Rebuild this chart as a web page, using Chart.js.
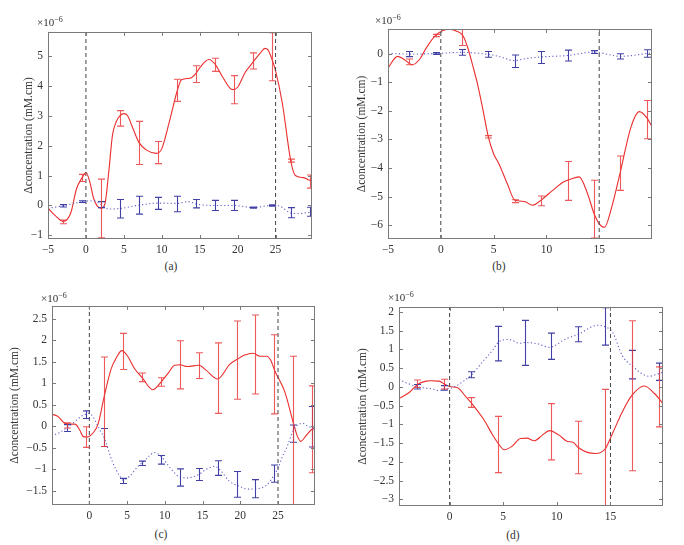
<!DOCTYPE html>
<html><head><meta charset="utf-8">
<script src="https://cdn.jsdelivr.net/npm/chart.js@4.4.1/dist/chart.umd.min.js"></script>
<style>
body{margin:0;background:#fff;width:684px;height:545px;position:relative;overflow:hidden;font-family:'Liberation Serif',serif;}
canvas{position:absolute;}
.lbl{position:absolute;font:11.5px 'Liberation Serif',serif;color:#333;white-space:nowrap;line-height:12px;}
.cap{transform:translate(-50%,-50%);}
.exp{font-size:11px;}
.exp sup{font-size:8px;vertical-align:4px;line-height:0;}
</style></head><body>
<canvas id="ca"></canvas><canvas id="cb"></canvas><canvas id="cc"></canvas><canvas id="cd"></canvas>
<div class="lbl exp" style="left:37px;top:16px">×10<sup>−6</sup></div>
<div class="lbl exp" style="left:375px;top:14px">×10<sup>−6</sup></div>
<div class="lbl exp" style="left:41px;top:292px">×10<sup>−6</sup></div>
<div class="lbl exp" style="left:388px;top:291px">×10<sup>−6</sup></div>
<div class="lbl cap" style="left:171px;top:266px">(a)</div>
<div class="lbl cap" style="left:499px;top:266px">(b)</div>
<div class="lbl cap" style="left:161px;top:534px">(c)</div>
<div class="lbl cap" style="left:513px;top:535px">(d)</div>
<script>
// ---------- Panel (a) ----------
const aRedX = [-5,-4,-3,-2,-1.25,-0.5,0,0.5,1,1.5,2,2.5,3,3.5,4,4.5,5,5.5,6,7,8,9.3,10,11,12,12.6,13.7,14.4,15,16.2,17,18,19.3,20,21,22,23,23.6,24,24.5,25,25.9,27,27.6,28.7,29.4,29.8];
const aRedY = [-0.09,-0.35,-0.53,-0.25,0.55,0.93,1.1,0.8,0.25,-0.02,-0.09,0.05,1.1,2.35,2.8,3.0,3.07,3.0,2.7,2.1,1.85,1.74,1.9,2.8,3.8,4.2,4.25,4.38,4.6,4.88,4.73,4.3,3.87,3.95,4.45,4.78,5.1,5.25,5.2,4.9,4.5,3.4,1.49,1.0,0.93,0.85,0.82];
const aBlueX = [-5,-3,-1,0,1,2,3,4.5,7,9.5,12,13.5,14.5,17,19.5,22,24.5,25.5,27,28,29.8];
const aBlueY = [-0.09,-0.01,0.1,0.15,0.15,0.03,-0.12,-0.1,0.01,0.08,0.07,0.13,0.05,0.0,0.0,-0.07,0.0,-0.02,-0.25,-0.27,-0.22];
const aBarX = [-3,-0.5,2,4.5,7,9.5,12,14.5,17,19.5,22,24.5,27,29.5];
const aRedMean = [-0.55,0.92,-0.1,2.91,2.09,1.77,3.85,4.39,4.7,3.87,4.83,4.97,1.5,0.8];
const aRedErr = [0.06,0.12,0.98,0.26,0.72,0.37,0.37,0.28,0.22,0.47,0.27,0.8,0.05,0.22];
const aBlueMean = [-0.01,0.13,0.03,-0.11,0.01,0.07,0.05,0.06,0,0,-0.07,0.0,-0.24,-0.21];
const aBlueErr = [0.04,0.03,0.1,0.31,0.3,0.2,0.26,0.14,0.17,0.17,0.02,0.02,0.17,0.15];
const aEvents = [0,25];
const aXRange = [-5,29.8], aYRange = [-1.12,5.8];
const aXTicks = [-5,0,5,10,15,20,25];
const aYTicks = [-1,0,1,2,3,4,5];

// ---------- Panel (b) ----------
const bRedX = [-5,-4.1,-3.5,-2.7,-2,-1.4,-0.5,0.2,0.8,1.5,2.1,2.6,3,3.5,3.95,4.5,5,5.5,6.3,7,7.9,8.7,9.5,10.6,11.6,12.2,13.1,13.9,14.5,15,15.5,16.2,17,18,18.8,19.5,20];
const bRedY = [-0.51,-0.1,-0.2,-0.39,-0.2,0.18,0.63,0.8,0.85,0.78,0.62,0.15,-0.39,-1.1,-1.89,-2.91,-3.5,-3.85,-4.55,-5.12,-5.17,-5.3,-5.12,-4.78,-4.49,-4.4,-4.31,-4.9,-5.58,-5.95,-6.07,-5.35,-4.14,-2.58,-2.03,-2.24,-2.56];
const bBlueX = [-5,-3,-0.5,2,4.5,5.5,7,8,9.5,12,14.5,17,19.5,20];
const bBlueY = [0,-0.02,0,0.04,-0.03,-0.1,-0.25,-0.18,-0.12,-0.07,0.05,-0.1,0,0.02];
const bBarX = [-3,-0.5,2,4.5,7,9.5,12,14.5,17,19.5];
const bRedMean = [-0.29,0.63,0.62,-2.91,-5.16,-5.15,-4.45,-5.44,-4.18,-2.31];
const bRedErr = [0.1,0.04,0.34,0.04,0.05,0.17,0.68,1.01,0.6,0.67];
const bBlueMean = [-0.02,0.0,0.04,-0.03,-0.27,-0.14,-0.07,0.05,-0.1,0.0];
const bBlueErr = [0.09,0.03,0.1,0.1,0.22,0.21,0.19,0.05,0.09,0.13];
const bEvents = [0,15];
const bXRange = [-5,20], bYRange = [-6.48,0.86];
const bXTicks = [-5,0,5,10,15];
const bYTicks = [-6,-5,-4,-3,-2,-1,0];

// ---------- Panel (c) ----------
const cRedX = [-5,-4.4,-4,-3.26,-2.5,-1.9,-1.3,-0.8,-0.3,0.5,1.15,2,2.9,3.6,4.3,5,6,7,8.4,9.5,10.5,11.3,12,13,14.5,15.5,17,18.6,19.7,20.5,21.7,22.6,23.5,24,24.6,25.9,27,27.5,28,28.8,29.5,29.9];
const cRedY = [0.28,0.25,0.2,0.07,0.05,0.05,-0.08,-0.24,-0.25,-0.15,0.05,0.72,1.34,1.6,1.76,1.65,1.34,1.13,0.85,1.03,1.25,1.42,1.43,1.39,1.42,1.3,1.1,1.44,1.57,1.65,1.7,1.63,1.63,1.55,1.28,0.8,0.1,-0.2,-0.35,-0.2,-0.07,-0.05];
const cBlueX = [-5,-4,-3,-2,-1,-0.5,0,0.5,1,1.5,2,3,4,4.5,5.5,6.5,7,8,8.6,9.5,10.5,11.5,12,13,14.5,15.5,16.6,17.5,18.5,19.7,21,22.2,23.4,24.6,25,25.6,26.3,27,27.6,28.3,29,29.9];
const cBlueY = [-0.22,-0.15,-0.04,0.1,0.24,0.28,0.3,0.22,0.05,-0.12,-0.28,-0.8,-1.15,-1.25,-1.13,-0.92,-0.85,-0.68,-0.61,-0.7,-0.92,-1.12,-1.18,-1.2,-1.12,-1.0,-0.93,-1.05,-1.27,-1.38,-1.46,-1.45,-1.38,-1.1,-0.97,-0.7,-0.43,-0.1,0.03,0.07,0.0,-0.05];
const cBarX = [-3,-0.5,2,4.5,7,9.5,12,14.5,17,19.5,22,24.5,27,29.5];
const cRedMean = [0.02,-0.25,0.57,1.74,1.14,1.03,1.43,1.41,1.12,1.54,1.67,1.21,-0.1,-0.07];
const cRedErr = [0.06,0.24,1.04,0.42,0.1,0.1,0.56,0.3,0.82,0.91,0.92,0.92,1.73,1.01];
const cBlueMean = [-0.04,0.27,-0.26,-1.27,-0.86,-0.78,-1.19,-1.12,-0.97,-1.35,-1.45,-1.1,-0.17,-0.01];
const cBlueErr = [0.08,0.09,0.21,0.06,0.05,0.1,0.2,0.14,0.17,0.3,0.21,0.2,0.2,0.47];
const cEvents = [0,25];
const cXRange = [-4.95,29.9], cYRange = [-1.83,2.8];
const cXTicks = [0,5,10,15,20,25];
const cYTicks = [-1.5,-1,-0.5,0,0.5,1,1.5,2,2.5];

// ---------- Panel (d) ----------
const dRedX = [-4.72,-3.8,-3,-2.2,-1.8,-1,-0.4,0.1,0.7,1.5,2.05,3.2,4,4.6,5.1,5.8,6.6,7.2,7.9,8.65,9.3,10.2,11,11.5,12,12.85,13.6,14.5,15.2,16.1,17,18.15,19.1,19.9];
const dRedY = [-0.31,-0.16,0.06,0.15,0.16,0.15,0.06,0.0,-0.02,-0.26,-0.44,-0.88,-1.28,-1.54,-1.68,-1.59,-1.38,-1.37,-1.44,-1.29,-1.17,-1.29,-1.46,-1.48,-1.62,-1.75,-1.78,-1.66,-1.24,-0.67,-0.23,0.02,-0.18,-0.45];
const dBlueX = [-4.72,-4,-3,-1.6,-1,-0.4,0.1,1.2,2.05,3.2,4,4.6,5.5,6.6,7.1,8.3,9.3,10.8,12,13.8,14.5,15.2,16.1,17,18.6,19.5,19.9];
const dBlueY = [0.2,0.1,0.0,-0.06,-0.1,-0.05,-0.04,0.13,0.32,0.71,0.97,1.2,1.26,1.16,1.18,1.14,1.05,1.27,1.4,1.64,1.6,1.45,0.83,0.56,0.28,0.35,0.39];
const dBarX = [-3,-0.5,2,4.5,7,9.5,12,14.5,17,19.5];
const dRedMean = [0.08,0.07,-0.42,-1.54,null,-1.2,-1.62,-1.65,-0.24,-0.27];
const dRedErr = [0.1,0.13,0.13,0.75,null,0.75,0.7,1.58,2.0,0.8];
const dBlueMean = [0.0,-0.03,0.32,1.15,1.17,1.08,1.4,1.61,0.59,0.4];
const dBlueErr = [0.06,0.06,0.08,0.46,0.6,0.35,0.2,0.5,0.38,0.23];
const dEvents = [0,15];
const dXRange = [-4.72,19.9], dYRange = [-3.18,2.13];
const dXTicks = [0,5,10,15];
const dYTicks = [-3,-2.5,-2,-1.5,-1,-0.5,0,0.5,1,1.5,2];

const Y_TITLE = 'Δconcentration (mM.cm)';
const FONT = "'Liberation Serif', serif";
const FSIZE = 11.5;
const RED = 'rgb(235,45,45)';
const RED_BAR = 'rgba(235,60,60,0.85)';
const BLUE = 'rgb(95,95,205)';
const BLUE_BAR = 'rgb(65,65,165)';

function pts(xs, ys){ return xs.map((x,i)=>({x:x, y:ys[i]})); }
function fmt(v){ v = Math.round(v*100)/100; return (v < 0 ? '\u2212' : '') + Math.abs(v); }

function makePanel(p){
  const canvas = document.getElementById(p.id);
  const L=p.plot[0], T=p.plot[1], R=p.plot[2], B=p.plot[3];
  const lh = FSIZE * 1.2;
  const cl = Math.round(p.titleX - lh/2), ct = T - 10, cr = R + 6, cb = B + 18;
  const W = cr - cl, H = cb - ct;
  canvas.width = W; canvas.height = H;
  canvas.style.left = cl + 'px'; canvas.style.top = ct + 'px';
  canvas.style.width = W + 'px'; canvas.style.height = H + 'px';
  const yW = L - cl, xH = cb - B;

  const datasets = [];
  p.events.forEach(ev => datasets.push({
    data: [{x:ev, y:p.yr[0]}, {x:ev, y:p.yr[1]}],
    borderColor:'#444', borderWidth:1, borderDash:[4,3], pointRadius:0, tension:0
  }));
  datasets.push({data: pts(p.blueX, p.blueY), borderColor: BLUE, borderWidth: 1.1,
    borderDash:[1.2,2.4], pointRadius:0, cubicInterpolationMode:'monotone'});
  datasets.push({data: pts(p.redX, p.redY), borderColor: RED, borderWidth: 1.1,
    pointRadius:0, cubicInterpolationMode:'monotone'});

  const errPlugin = {
    id: 'err_' + p.id,
    afterDatasetsDraw(chart){
      const ctx = chart.ctx, a = chart.chartArea, xs = chart.scales.x, ys = chart.scales.y;
      ctx.save();
      ctx.beginPath(); ctx.rect(a.left, a.top, a.right - a.left, a.bottom - a.top); ctx.clip();
      const series = [[p.blueMean, p.blueErr, BLUE_BAR], [p.redMean, p.redErr, RED_BAR]];
      series.forEach(s => {
        ctx.strokeStyle = s[2]; ctx.lineWidth = 1.1;
        p.barX.forEach((bx, i) => {
          const m = s[0][i], e = s[1][i];
          if (m === null || m === undefined) return;
          const px = Math.round(xs.getPixelForValue(bx)) + 0.5;
          const y1 = ys.getPixelForValue(m + e), y2 = ys.getPixelForValue(m - e);
          ctx.beginPath();
          ctx.moveTo(px, y1); ctx.lineTo(px, y2);
          ctx.moveTo(px - 3.5, y1); ctx.lineTo(px + 3.5, y1);
          ctx.moveTo(px - 3.5, y2); ctx.lineTo(px + 3.5, y2);
          ctx.stroke();
        });
      });
      ctx.restore();
    },
    afterDraw(chart){
      const ctx = chart.ctx, a = chart.chartArea, xs = chart.scales.x, ys = chart.scales.y;
      ctx.save();
      ctx.strokeStyle = '#7a7a7a'; ctx.lineWidth = 1;
      ctx.strokeRect(Math.round(a.left)+0.5, Math.round(a.top)+0.5, Math.round(a.right-a.left)-1, Math.round(a.bottom-a.top)-1);
      ctx.beginPath();
      xs.ticks.forEach(t => {
        const px = Math.round(xs.getPixelForValue(t.value)) + 0.5;
        ctx.moveTo(px, a.bottom); ctx.lineTo(px, a.bottom - 4);
        ctx.moveTo(px, a.top); ctx.lineTo(px, a.top + 4);
      });
      ys.ticks.forEach(t => {
        const py = Math.round(ys.getPixelForValue(t.value)) + 0.5;
        ctx.moveTo(a.left, py); ctx.lineTo(a.left + 4, py);
        ctx.moveTo(a.right, py); ctx.lineTo(a.right - 4, py);
      });
      ctx.stroke();
      ctx.restore();
    }
  };

  new Chart(canvas, {
    type: 'line',
    data: { datasets: datasets },
    plugins: [errPlugin],
    options: {
      responsive: false, animation: false, devicePixelRatio: 1,
      layout: { padding: { top: 10, right: 6, left: 0, bottom: 0 } },
      plugins: { legend: { display: false }, tooltip: { enabled: false } },
      scales: {
        x: {
          type: 'linear', min: p.xr[0], max: p.xr[1], offset: false,
          grid: { display: false, drawTicks: false }, border: { display: false },
          afterBuildTicks: s => { s.ticks = p.xTicks.map(v => ({value: v})); },
          afterFit: s => { s.height = xH; },
          ticks: { autoSkip: false, maxRotation: 0, padding: 4, color: '#333',
            font: { family: FONT, size: FSIZE }, callback: v => fmt(v) }
        },
        y: {
          type: 'linear', min: p.yr[0], max: p.yr[1],
          grid: { display: false, drawTicks: false }, border: { display: false },
          afterBuildTicks: s => { s.ticks = p.yTicks.map(v => ({value: v})); },
          afterFit: s => { s.width = yW; },
          title: { display: true, text: Y_TITLE, color: '#333', padding: 0,
            font: { family: FONT, size: FSIZE } },
          ticks: { autoSkip: false, padding: 5, color: '#333',
            font: { family: FONT, size: FSIZE }, callback: v => fmt(v) }
        }
      }
    }
  });
}

makePanel({id:'ca', plot:[48,30,312,239], titleX:29,
  redX:aRedX, redY:aRedY, blueX:aBlueX, blueY:aBlueY, barX:aBarX,
  redMean:aRedMean, redErr:aRedErr, blueMean:aBlueMean, blueErr:aBlueErr,
  events:aEvents, xr:aXRange, yr:aYRange, xTicks:aXTicks, yTicks:aYTicks});
makePanel({id:'cb', plot:[388,27,652,239], titleX:362,
  redX:bRedX, redY:bRedY, blueX:bBlueX, blueY:bBlueY, barX:bBarX,
  redMean:bRedMean, redErr:bRedErr, blueMean:bBlueMean, blueErr:bBlueErr,
  events:bEvents, xr:bXRange, yr:bYRange, xTicks:bXTicks, yTicks:bYTicks});
makePanel({id:'cc', plot:[52,304,315,505], titleX:15,
  redX:cRedX, redY:cRedY, blueX:cBlueX, blueY:cBlueY, barX:cBarX,
  redMean:cRedMean, redErr:cRedErr, blueMean:cBlueMean, blueErr:cBlueErr,
  events:cEvents, xr:cXRange, yr:cYRange, xTicks:cXTicks, yTicks:cYTicks});
makePanel({id:'cd', plot:[399,305,663,506], titleX:363,
  redX:dRedX, redY:dRedY, blueX:dBlueX, blueY:dBlueY, barX:dBarX,
  redMean:dRedMean, redErr:dRedErr, blueMean:dBlueMean, blueErr:dBlueErr,
  events:dEvents, xr:dXRange, yr:dYRange, xTicks:dXTicks, yTicks:dYTicks});
</script>
</body></html>
